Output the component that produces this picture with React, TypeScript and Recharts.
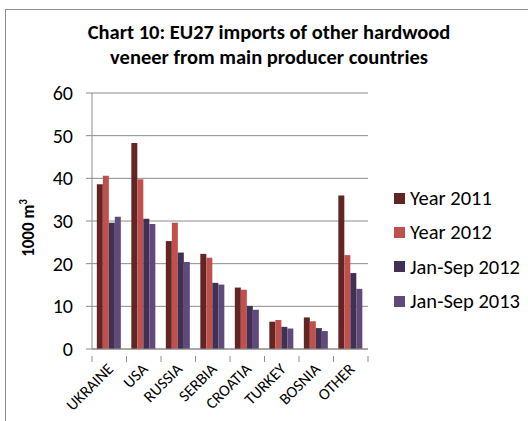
import React from "react";
import { BarChart, Bar, XAxis, YAxis, CartesianGrid } from "recharts";

const countries = ["UKRAINE", "USA", "RUSSIA", "SERBIA", "CROATIA", "TURKEY", "BOSNIA", "OTHER"];
const year2011 = [38.6, 48.3, 25.3, 22.3, 14.4, 6.4, 7.4, 36.0];
const year2012 = [40.6, 39.8, 29.6, 21.4, 13.9, 6.8, 6.5, 22.0];
const janSep2012 = [29.6, 30.5, 22.6, 15.5, 10.1, 5.2, 4.9, 17.8];
const janSep2013 = [31.0, 29.3, 20.4, 15.1, 9.2, 4.8, 4.2, 14.1];
const yTicks = [0, 10, 20, 30, 40, 50, 60];

const seriesList = [
  { key: "y2011", name: "Year 2011", color: "#632523" },
  { key: "y2012", name: "Year 2012", color: "#C0504D" },
  { key: "js2012", name: "Jan-Sep 2012", color: "#403152" },
  { key: "js2013", name: "Jan-Sep 2013", color: "#604A7B" },
];

const data = countries.map((c, i) => ({
  country: c,
  y2011: year2011[i],
  y2012: year2012[i],
  js2012: janSep2012[i],
  js2013: janSep2013[i],
}));

const FONT = "Carlito, Calibri, Lato, 'Open Sans', sans-serif";
const GRID = "#8c8c8c";

function CountryTick(props: any) {
  const { x, y, payload, index } = props;
  const half = payload && payload.offset ? payload.offset : 17.25;
  return (
    <g>
      <line x1={x - half} y1={y - 1} x2={x - half} y2={y + 5} stroke={GRID} />
      {index === countries.length - 1 && (
        <line x1={x + half} y1={y - 1} x2={x + half} y2={y + 5} stroke={GRID} />
      )}
      <text
        x={x + 5}
        y={y + 13}
        transform={`rotate(-45, ${x + 5}, ${y + 13})`}
        textAnchor="end"
        fontSize={16}
        fontFamily={FONT}
        fill="#000"
      >
        {payload.value}
      </text>
    </g>
  );
}

export default function App() {
  return (
    <div
      style={{
        position: "absolute",
        left: 0,
        top: 0,
        width: 528,
        height: 421,
        overflow: "hidden",
        background: "#fff",
        fontFamily: FONT,
      }}
    >
      <div
        style={{
          position: "absolute",
          left: 5,
          top: 9,
          width: 600,
          height: 600,
          border: "1px solid #8c8c8c",
        }}
      />
      <div
        style={{
          position: "absolute",
          left: 0,
          top: 20,
          width: 538,
          textAlign: "center",
          fontWeight: "bold",
          fontSize: 20.5,
          lineHeight: "25px",
          color: "#000",
        }}
      >
        Chart 10: EU27 imports of other hardwood
        <br />
        veneer from main producer countries
      </div>
      <div
        style={{
          position: "absolute",
          left: 28,
          top: 228,
          transform: "translate(-50%, -50%) rotate(-90deg)",
          fontWeight: "bold",
          fontSize: 17,
          whiteSpace: "nowrap",
        }}
      >
        1000 m<sup style={{ fontSize: 11 }}>3</sup>
      </div>
      <BarChart
        width={528}
        height={421}
        data={data}
        margin={{ top: 93, right: 160, bottom: 0, left: 0 }}
        barCategoryGap="14%"
        barGap={0}
        style={{ position: "absolute", left: 0, top: 0 }}
      >
        <CartesianGrid vertical={false} stroke={GRID} />
        <XAxis
          dataKey="country"
          stroke={GRID}
          tickLine={false}
          tick={<CountryTick />}
          interval={0}
          height={72}
        />
        <YAxis
          width={92}
          domain={[0, 60]}
          ticks={yTicks}
          stroke={GRID}
          tickSize={6}
          tickMargin={13}
          tick={{ fill: "#000", fontSize: 20, fontFamily: FONT }}
        />
        {seriesList.map((s) => (
          <Bar key={s.key} dataKey={s.key} name={s.name} fill={s.color} isAnimationActive={false} />
        ))}
      </BarChart>
      <div style={{ position: "absolute", left: 394, top: 181 }}>
        {seriesList.map((s) => (
          <div key={s.key} style={{ display: "flex", alignItems: "center", height: 34.3 }}>
            <span style={{ width: 11, height: 11, background: s.color, marginRight: 5 }} />
            <span style={{ fontSize: 20.5, color: "#000" }}>{s.name}</span>
          </div>
        ))}
      </div>
    </div>
  );
}
